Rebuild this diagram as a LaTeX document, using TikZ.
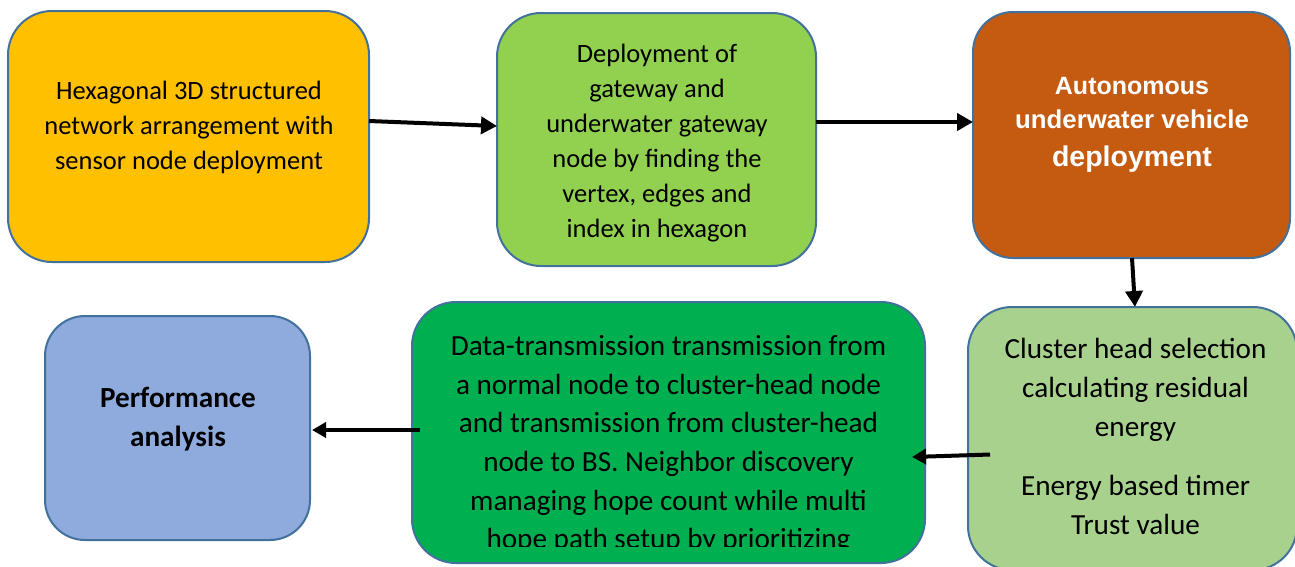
\documentclass[tikz,border=0pt]{standalone}
\usepackage{fontspec}
\setmainfont{Carlito}
\newfontfamily\headfont{Liberation Sans}
\usetikzlibrary{arrows.meta}

\definecolor{edgeblue}{HTML}{41719C}
\definecolor{boxgold}{HTML}{FFC000}
\definecolor{boxlime}{HTML}{92D050}
\definecolor{boxrust}{HTML}{C55A11}
\definecolor{boxsage}{HTML}{A9D18E}
\definecolor{boxgreen}{HTML}{00B050}
\definecolor{boxblue}{HTML}{8FAADC}

\begin{document}
\begin{tikzpicture}[x=1pt,y=-1pt,
  box/.style={draw=edgeblue, line width=2pt, rounded corners=44pt, inner sep=0pt, outer sep=0pt},
  flow/.style={line width=4pt, -{Triangle[length=16pt,width=17pt]}},
  txt/.style={align=center, inner sep=0pt, font=\fontsize{26.5}{35}\selectfont},
  bigtxt/.style={align=center, inner sep=0pt, font=\fontsize{29.2}{38.7}\selectfont},
  headtxt/.style={anchor=base, inner sep=0pt, text=white}]

\useasboundingbox (0,0) rectangle (1295,566);
\clip (0,0) rectangle (1295,566);

% process boxes
\node[box, fill=boxgold,  minimum width=361pt, minimum height=251pt] (b1) at (188.5,136.5) {};
\node[box, fill=boxlime,  minimum width=319pt, minimum height=253pt] (b2) at (656.5,139.5) {};
\node[box, fill=boxrust,  minimum width=317pt, minimum height=246pt, rounded corners=40pt] (b3) at (1131.5,135) {};
\node[box, fill=boxsage,  minimum width=329pt, minimum height=263pt] (b4) at (1132.5,438.5) {};
\node[box, fill=boxgreen, minimum width=513pt, minimum height=261pt] (b5) at (668.5,432.5) {};
\node[box, fill=boxblue,  minimum width=265pt, minimum height=224pt, rounded corners=40pt] (b6) at (177.5,428) {};

% box texts
\node[txt] (t1) at (189,127.5) {Hexagonal 3D structured\\network arrangement with\\sensor node deployment};
\node[txt] (t2) at (657,143) {Deployment of\\gateway and\\underwater gateway\\node by finding the\\vertex, edges and\\index in hexagon};
\node[headtxt, font=\headfont\bfseries\fontsize{25}{30}\selectfont] (t3a) at (1132,94) {Autonomous};
\node[headtxt, font=\headfont\bfseries\fontsize{25.8}{30}\selectfont] (t3b) at (1132,128) {underwater vehicle};
\node[headtxt, font=\headfont\bfseries\fontsize{28.5}{34}\selectfont] (t3c) at (1132,166) {deployment};
\node[bigtxt] (t4) at (1135.5,436.5) {Cluster head selection\\calculating residual\\energy\\[21pt]Energy based timer\\Trust value};
\begin{scope}
  \clip (b5.north west) rectangle (925,546);
  \node[bigtxt] (t5) at (668.5,444.6) {Data-transmission transmission from\\a normal node to cluster-head node\\and transmission from cluster-head\\node to BS. Neighbor discovery\\managing hope count while multi\\hope path setup by prioritizing};
\end{scope}
\node[bigtxt, font=\bfseries\fontsize{29.2}{38.7}\selectfont] (t6) at (178,419) {Performance\\analysis};

% connectors
\draw[flow] ([yshift=15.5pt]b1.east) -- ([yshift=13.5pt]b2.west);
\draw[flow] ([yshift=17.5pt]b2.east) -- ([yshift=13pt]b3.west);
\draw[flow] ([xshift=0.5pt]b3.south) -- ([xshift=2.5pt]b4.north);
\draw[flow, -{Triangle[length=14pt,width=15pt]}] ([xshift=22pt,yshift=-16pt]b4.west) -- ([xshift=-13pt,yshift=-24.5pt]b5.east);
\draw[flow, -{Triangle[length=14pt,width=15pt]}] ([xshift=8pt,yshift=2.5pt]b5.west) -- ([xshift=2pt,yshift=-2pt]b6.east);
\end{tikzpicture}
\end{document}
